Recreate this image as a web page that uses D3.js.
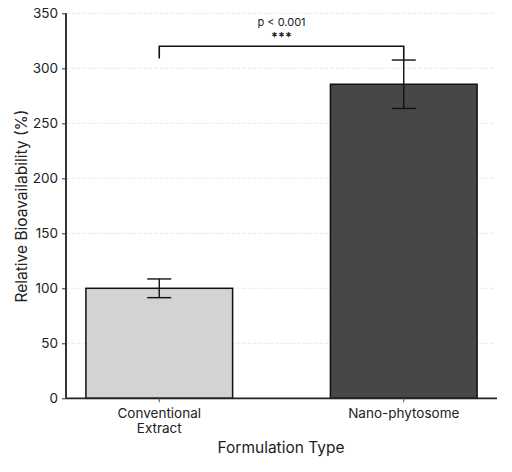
<!DOCTYPE html>
<html><head><meta charset="utf-8">
<script src="https://cdn.jsdelivr.net/npm/d3@7"></script>
<style>body{margin:0;background:#fff}svg{display:block}text{font-family:Inter,"Noto Sans",sans-serif}</style>
</head><body><svg id="c" width="512" height="472"></svg>
<script>
const categories = ["Conventional\nExtract", "Nano-phytosome"];
const means = [100, 285.5];
const errors = [8.5, 22];
const colors = ["#d3d3d3", "#474747"];
const yTicks = [0, 50, 100, 150, 200, 250, 300, 350];
const sigText = ["p < 0.001", "***"];
const bracketY = 320;
const bracketDrop = 309;

const svg = d3.select("#c");
const L = 66, R = 497, T = 13.3, B = 398.3;
const x = d3.scaleBand().domain(categories).range([L, R]).paddingInner(0.4).paddingOuter(0.0814);
const y = d3.scaleLinear().domain([0, 350]).range([B, T]);

// grid
svg.append("g").selectAll("line").data(yTicks.filter(d => d > 0)).join("line")
  .attr("x1", L).attr("x2", R - 2).attr("y1", d => y(d)).attr("y2", d => y(d))
  .attr("stroke", "#e4e4e4").attr("stroke-width", 0.8).attr("stroke-dasharray", "4,1.5");

// bars
svg.append("g").selectAll("rect").data(categories).join("rect")
  .attr("x", d => x(d)).attr("width", x.bandwidth())
  .attr("y", (d, i) => y(means[i])).attr("height", (d, i) => y(0) - y(means[i]))
  .attr("fill", (d, i) => colors[i]).attr("stroke", "#111").attr("stroke-width", 1.5);

// error bars
const eb = svg.append("g").attr("stroke", "#111").attr("stroke-width", 1.4);
categories.forEach((c, i) => {
  const cx = x(c) + x.bandwidth() / 2;
  eb.append("line").attr("x1", cx).attr("x2", cx).attr("y1", y(means[i] - errors[i])).attr("y2", y(means[i] + errors[i]));
  [means[i] - errors[i], means[i] + errors[i]].forEach(v =>
    eb.append("line").attr("x1", cx - 12).attr("x2", cx + 12).attr("y1", y(v)).attr("y2", y(v)));
});

// axes
const ya = svg.append("g").attr("transform", `translate(${L},0)`)
  .call(d3.axisLeft(y).tickValues(yTicks).tickSize(4).tickPadding(4).tickFormat(d3.format("d")));
ya.select(".domain").attr("stroke", "#333").attr("stroke-width", 2).attr("d", `M0,${B}V${T}`);
ya.selectAll(".tick line").attr("stroke", "#333");
ya.selectAll(".tick text").attr("font-size", 13.5).attr("fill", "#222").style("font-family", "Inter,sans-serif");

const xa = svg.append("g").attr("transform", `translate(0,${B})`)
  .call(d3.axisBottom(x).tickSize(4).tickPadding(6).tickFormat(""));
xa.select(".domain").attr("stroke", "#222").attr("stroke-width", 1.8).attr("d", `M${L},0H${R}`);
xa.selectAll(".tick line").attr("stroke", "#555");
xa.selectAll(".tick").each(function(d) {
  const lines = d.split("\n");
  const t = d3.select(this).append("text").attr("fill", "#222").attr("font-size", 13.5)
    .attr("text-anchor", "middle").attr("y", 20);
  lines.forEach((s, k) => t.append("tspan").attr("x", 0).attr("dy", k ? 15 : 0).text(s));
});

// axis titles
svg.append("text").attr("x", 281).attr("y", 453).attr("text-anchor", "middle")
  .attr("font-size", 15.5).attr("fill", "#222").text("Formulation Type");
svg.append("text").attr("transform", `translate(27,206) rotate(-90)`).attr("text-anchor", "middle")
  .attr("font-size", 15.5).attr("fill", "#222").text("Relative Bioavailability (%)");

// significance bracket
const x1 = x(categories[0]) + x.bandwidth() / 2, x2 = x(categories[1]) + x.bandwidth() / 2;
svg.append("path").attr("fill", "none").attr("stroke", "#111").attr("stroke-width", 1.6)
  .attr("d", `M${x1},${y(bracketDrop)}V${y(bracketY)}H${x2}V${y(means[1] + errors[1])}`);
const xm = (x1 + x2) / 2;
svg.append("text").attr("x", xm).attr("y", 26).attr("text-anchor", "middle")
  .attr("font-size", 11).attr("fill", "#222").text(sigText[0]);
svg.append("text").attr("x", xm).attr("y", 42).attr("text-anchor", "middle")
  .attr("font-size", 12.5).attr("font-weight", "bold").attr("fill", "#222").text(sigText[1]);
</script></body></html>
